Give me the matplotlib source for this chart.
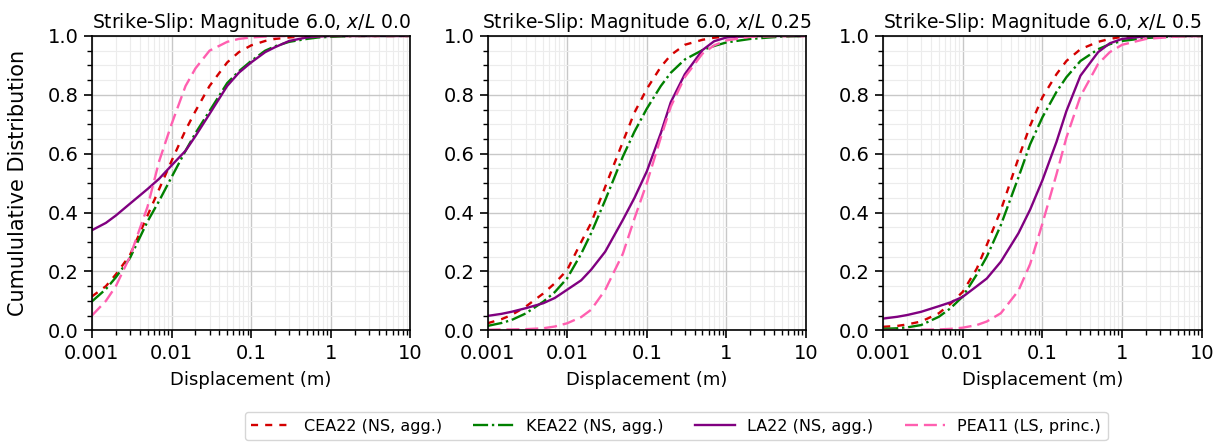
import numpy as np
import matplotlib
matplotlib.use('Agg')
import matplotlib.pyplot as plt
from matplotlib.ticker import FixedLocator, MultipleLocator, LogLocator, NullFormatter

# Displacement values (m) where the curves were read
disp = [0.001, 0.0015, 0.002, 0.003, 0.005, 0.007, 0.01, 0.015, 0.02, 0.03, 0.05,
        0.07, 0.1, 0.15, 0.2, 0.3, 0.5, 0.7, 1, 2, 5, 10]

# x/L = 0.0
cea_00 = [0.115, 0.15, 0.19, 0.255, 0.39, 0.48, 0.575, 0.68, 0.745, 0.83, 0.91,
          0.945, 0.968, 0.983, 0.99, 0.995, 0.999, 1, 1, 1, 1, 1]
kea_00 = [0.098, 0.14, 0.18, 0.245, 0.37, 0.44, 0.52, 0.61, 0.67, 0.745, 0.84,
          0.88, 0.915, 0.95, 0.965, 0.98, 0.99, 0.995, 0.997, 1, 1, 1]
la_00 = [0.34, 0.365, 0.39, 0.43, 0.48, 0.515, 0.56, 0.61, 0.66, 0.735, 0.83,
         0.875, 0.91, 0.945, 0.962, 0.983, 0.995, 0.998, 1, 1, 1, 1]
pea_00 = [0.05, 0.10, 0.15, 0.25, 0.42, 0.575, 0.70, 0.83, 0.89, 0.95, 0.98,
          0.99, 0.995, 0.998, 0.999, 1, 1, 1, 1, 1, 1, 1]

# x/L = 0.25
cea_25 = [0.024, 0.038, 0.052, 0.08, 0.125, 0.16, 0.205, 0.30, 0.365, 0.487, 0.64,
          0.74, 0.82, 0.895, 0.935, 0.97, 0.987, 0.994, 0.998, 1, 1, 1]
kea_25 = [0.015, 0.025, 0.035, 0.057, 0.097, 0.13, 0.177, 0.26, 0.33, 0.442, 0.59,
          0.675, 0.753, 0.83, 0.875, 0.92, 0.952, 0.966, 0.978, 0.99, 0.998, 1]
la_25 = [0.049, 0.056, 0.063, 0.075, 0.092, 0.11, 0.138, 0.17, 0.206, 0.267, 0.375,
         0.45, 0.54, 0.67, 0.775, 0.87, 0.952, 0.982, 0.995, 1, 1, 1]
pea_25 = [0.002, 0.003, 0.003, 0.004, 0.007, 0.013, 0.024, 0.045, 0.07, 0.137, 0.26,
          0.38, 0.50, 0.655, 0.76, 0.86, 0.94, 0.968, 0.985, 0.997, 1, 1]

# x/L = 0.5
cea_50 = [0.012, 0.015, 0.02, 0.03, 0.058, 0.09, 0.131, 0.21, 0.29, 0.408, 0.585,
          0.695, 0.792, 0.87, 0.915, 0.955, 0.98, 0.99, 0.997, 1, 1, 1]
kea_50 = [0.005, 0.007, 0.01, 0.018, 0.046, 0.075, 0.115, 0.19, 0.25, 0.357, 0.52,
          0.632, 0.724, 0.81, 0.86, 0.915, 0.955, 0.972, 0.983, 0.993, 0.999, 1]
la_50 = [0.04, 0.046, 0.052, 0.063, 0.082, 0.095, 0.114, 0.15, 0.176, 0.233, 0.33,
         0.41, 0.51, 0.64, 0.745, 0.865, 0.945, 0.975, 0.99, 0.999, 1, 1]
pea_50 = [0.001, 0.001, 0.001, 0.002, 0.003, 0.005, 0.009, 0.018, 0.03, 0.058, 0.135,
          0.225, 0.363, 0.53, 0.655, 0.795, 0.905, 0.945, 0.97, 0.99, 0.998, 1]

locations = ['0.0', '0.25', '0.5']
models = ['CEA22 (NS, agg.)', 'KEA22 (NS, agg.)', 'LA22 (NS, agg.)', 'PEA11 (LS, princ.)']
panels = [[cea_00, kea_00, la_00, pea_00],
          [cea_25, kea_25, la_25, pea_25],
          [cea_50, kea_50, la_50, pea_50]]
xtick_vals = [0.001, 0.01, 0.1, 1, 10]
xtick_labels = ['0.001', '0.01', '0.1', '1', '10']

colors = ['#d40000', 'green', 'purple', '#ff5fb0']
styles = [(0, (3, 3)), '-.', '-', (0, (5.5, 2.5))]

fig, axes = plt.subplots(1, 3, figsize=(12.25, 4.44), dpi=100)
fig.subplots_adjust(left=0.075, right=0.981, bottom=0.256, top=0.919, wspace=0.242)

for ax, loc, curves in zip(axes, locations, panels):
    for y, c, ls, lab in zip(curves, colors, styles, models):
        ax.plot(disp, y, color=c, linestyle=ls, linewidth=1.7, label=lab)
    ax.set_xscale('log')
    ax.set_xlim(0.001, 10)
    ax.set_ylim(0, 1)
    ax.xaxis.set_major_locator(FixedLocator(xtick_vals))
    ax.set_xticklabels(xtick_labels)
    ax.xaxis.set_minor_locator(LogLocator(base=10, subs=np.arange(2, 10)))
    ax.xaxis.set_minor_formatter(NullFormatter())
    ax.yaxis.set_major_locator(MultipleLocator(0.2))
    ax.yaxis.set_minor_locator(MultipleLocator(0.05))
    ax.grid(True, which='major', color='#c8c8c8', linewidth=1.0)
    ax.grid(True, which='minor', color='#ececec', linewidth=0.8)
    ax.set_axisbelow(True)
    ax.tick_params(which='major', labelsize=14, length=6, width=1.2)
    ax.tick_params(which='minor', length=3.5, width=1.0)
    for s in ax.spines.values():
        s.set_linewidth(1.2)
    ax.set_title('Strike-Slip: Magnitude 6.0, $x/L$ ' + loc, fontsize=13.5)
    ax.set_xlabel('Displacement (m)', fontsize=13, labelpad=6)

axes[0].set_ylabel('Cumululative Distribution', fontsize=15, labelpad=14)

handles, labels = axes[0].get_legend_handles_labels()
fig.legend(handles, labels, loc='lower center', bbox_to_anchor=(0.552, 0.009), ncol=4,
           fontsize=11.5, handlelength=2.56, handletextpad=0.75, columnspacing=1.94,
           borderaxespad=0)

plt.savefig('out.png', dpi=100)
